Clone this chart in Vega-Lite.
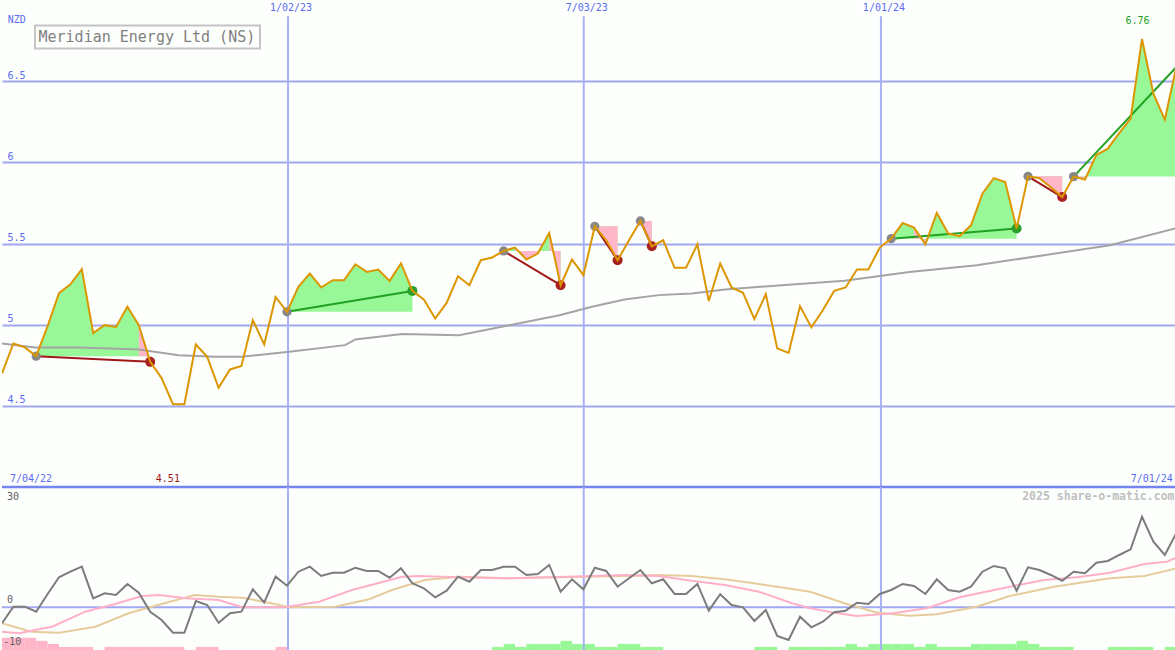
{
  "$schema": "https://vega.github.io/schema/vega-lite/v6.json",
  "padding": 0,
  "spacing": 0,
  "bounds": "flush",
  "background": "#fdfffd",
  "config": {
    "view": {"stroke": null},
    "axisX": {"domain": false, "ticks": false, "labels": false, "grid": false, "title": null},
    "axisY": {"domain": false, "ticks": false, "title": null},
    "text": {"font": "DejaVu Sans Mono"}
  },
  "datasets": {
    "series": [
      {"i":0,"p":4.70,"o":-4.0},{"i":1,"p":4.884,"o":0.15},{"i":2,"p":4.86,"o":0.15},{"i":3,"p":4.806,"o":-1.1},
      {"i":4,"p":4.991,"o":3.33},{"i":5,"p":5.194,"o":7.5},{"i":6,"p":5.249,"o":8.9},{"i":7,"p":5.342,"o":10.15},
      {"i":8,"p":4.948,"o":2.25},{"i":9,"p":4.997,"o":3.5},{"i":10,"p":4.986,"o":3.08},{"i":11,"p":5.11,"o":5.83},
      {"i":12,"p":4.997,"o":3.65},{"i":13,"p":4.771,"o":-1.1},{"i":14,"p":4.671,"o":-3.18},{"i":15,"p":4.51,"o":-6.35},
      {"i":16,"p":4.51,"o":-6.35},{"i":17,"p":4.878,"o":1.58},{"i":18,"p":4.802,"o":0.58},{"i":19,"p":4.611,"o":-3.85},
      {"i":20,"p":4.724,"o":-1.5},{"i":21,"p":4.745,"o":-1.1},{"i":22,"p":5.028,"o":4.5},{"i":23,"p":4.878,"o":1.25},
      {"i":24,"p":5.171,"o":7.65},{"i":25,"p":5.079,"o":5.4},{"i":26,"p":5.233,"o":8.9},{"i":27,"p":5.315,"o":10.15},
      {"i":28,"p":5.229,"o":7.83},{"i":29,"p":5.274,"o":8.65},{"i":30,"p":5.274,"o":8.65},{"i":31,"p":5.372,"o":9.9},
      {"i":32,"p":5.325,"o":9.08},{"i":33,"p":5.34,"o":9.08},{"i":34,"p":5.27,"o":7.4},{"i":35,"p":5.377,"o":9.75},
      {"i":36,"p":5.208,"o":6.0},{"i":37,"p":5.155,"o":4.75},{"i":38,"p":5.038,"o":2.5},{"i":39,"p":5.134,"o":4.15},
      {"i":40,"p":5.298,"o":7.65},{"i":41,"p":5.243,"o":6.4},{"i":42,"p":5.397,"o":9.33},{"i":43,"p":5.414,"o":9.33},
      {"i":44,"p":5.454,"o":10.15},{"i":45,"p":5.475,"o":10.15},{"i":46,"p":5.401,"o":8.08},{"i":47,"p":5.438,"o":8.33},
      {"i":48,"p":5.565,"o":10.58},{"i":49,"p":5.243,"o":3.9},{"i":50,"p":5.401,"o":7.0},{"i":51,"p":5.305,"o":4.5},
      {"i":52,"p":5.606,"o":9.9},{"i":53,"p":5.52,"o":9.08},{"i":54,"p":5.397,"o":5.15},{"i":55,"p":5.52,"o":7.25},
      {"i":56,"p":5.639,"o":9.33},{"i":57,"p":5.483,"o":6.0},{"i":58,"p":5.52,"o":7.0},{"i":59,"p":5.35,"o":3.33},
      {"i":60,"p":5.35,"o":3.33},{"i":61,"p":5.495,"o":5.83},{"i":62,"p":5.146,"o":-0.85},{"i":63,"p":5.377,"o":3.25},
      {"i":64,"p":5.229,"o":0.58},{"i":65,"p":5.196,"o":0.0},{"i":66,"p":5.034,"o":-3.43},{"i":67,"p":5.188,"o":-0.68},
      {"i":68,"p":4.854,"o":-7.18},{"i":69,"p":4.826,"o":-8.18},{"i":70,"p":5.114,"o":-2.35},{"i":71,"p":4.983,"o":-5.0},
      {"i":72,"p":5.089,"o":-3.6},{"i":73,"p":5.208,"o":-1.25},{"i":74,"p":5.229,"o":-0.85},{"i":75,"p":5.34,"o":1.15},
      {"i":76,"p":5.34,"o":0.83},{"i":77,"p":5.475,"o":3.33},{"i":78,"p":5.53,"o":4.33},{"i":79,"p":5.626,"o":5.83},
      {"i":80,"p":5.598,"o":5.33},{"i":81,"p":5.495,"o":3.33},{"i":82,"p":5.688,"o":7.0},{"i":83,"p":5.561,"o":4.33},
      {"i":84,"p":5.545,"o":3.9},{"i":85,"p":5.612,"o":5.15},{"i":86,"p":5.807,"o":8.9},{"i":87,"p":5.903,"o":10.33},
      {"i":88,"p":5.879,"o":9.75},{"i":89,"p":5.592,"o":4.15},{"i":90,"p":5.914,"o":10.0},{"i":91,"p":5.902,"o":9.33},
      {"i":92,"p":5.846,"o":8.08},{"i":93,"p":5.786,"o":6.65},{"i":94,"p":5.912,"o":8.9},{"i":95,"p":5.894,"o":8.5},
      {"i":96,"p":6.046,"o":11.15},{"i":97,"p":6.084,"o":11.58},{"i":98,"p":6.18,"o":13.08},{"i":99,"p":6.269,"o":14.5},
      {"i":100,"p":6.76,"o":22.65},{"i":101,"p":6.423,"o":16.4},{"i":102,"p":6.263,"o":13.08},{"i":103,"p":6.586,"o":18.5}
    ],
    "ma": [
      {"i":0,"v":4.884},{"i":2.9,"v":4.86},{"i":6.75,"v":4.86},{"i":12.0,"v":4.847},{"i":15.5,"v":4.812},
      {"i":18.7,"v":4.802},{"i":21.05,"v":4.802},{"i":25.2,"v":4.833},{"i":30.1,"v":4.874},{"i":31.0,"v":4.909},
      {"i":35.1,"v":4.942},{"i":40.1,"v":4.935},{"i":44.5,"v":4.997},{"i":48.9,"v":5.058},{"i":51.75,"v":5.11},
      {"i":54.6,"v":5.155},{"i":57.6,"v":5.182},{"i":60.5,"v":5.192},{"i":63.4,"v":5.217},{"i":69.3,"v":5.247},
      {"i":73.9,"v":5.27},{"i":79.6,"v":5.325},{"i":85.5,"v":5.366},{"i":91.4,"v":5.428},{"i":97.2,"v":5.489},
      {"i":103.07,"v":5.596}
    ],
    "fills": [
      {"t":1,"i":3,"p":4.806,"b":4.806},{"t":1,"i":4,"p":4.991,"b":4.806},{"t":1,"i":5,"p":5.194,"b":4.806},{"t":1,"i":6,"p":5.249,"b":4.806},
      {"t":1,"i":7,"p":5.342,"b":4.806},{"t":1,"i":8,"p":4.948,"b":4.806},{"t":1,"i":9,"p":4.997,"b":4.806},{"t":1,"i":10,"p":4.986,"b":4.806},
      {"t":1,"i":11,"p":5.11,"b":4.806},{"t":1,"i":12,"p":4.997,"b":4.806},{"t":1,"i":13,"p":4.771,"b":4.806},
      {"t":2,"i":25,"p":5.079,"b":5.079},{"t":2,"i":26,"p":5.233,"b":5.079},{"t":2,"i":27,"p":5.315,"b":5.079},{"t":2,"i":28,"p":5.229,"b":5.079},
      {"t":2,"i":29,"p":5.274,"b":5.079},{"t":2,"i":30,"p":5.274,"b":5.079},{"t":2,"i":31,"p":5.372,"b":5.079},{"t":2,"i":32,"p":5.325,"b":5.079},
      {"t":2,"i":33,"p":5.34,"b":5.079},{"t":2,"i":34,"p":5.27,"b":5.079},{"t":2,"i":35,"p":5.377,"b":5.079},{"t":2,"i":36,"p":5.208,"b":5.079},
      {"t":3,"i":44,"p":5.454,"b":5.454},{"t":3,"i":45,"p":5.475,"b":5.454},{"t":3,"i":46,"p":5.401,"b":5.454},{"t":3,"i":47,"p":5.438,"b":5.454},
      {"t":3,"i":48,"p":5.565,"b":5.454},{"t":3,"i":49,"p":5.243,"b":5.454},
      {"t":4,"i":52,"p":5.606,"b":5.606},{"t":4,"i":53,"p":5.52,"b":5.606},{"t":4,"i":54,"p":5.397,"b":5.606},
      {"t":5,"i":56,"p":5.639,"b":5.639},{"t":5,"i":57,"p":5.483,"b":5.639},
      {"t":6,"i":78,"p":5.53,"b":5.53},{"t":6,"i":79,"p":5.626,"b":5.53},{"t":6,"i":80,"p":5.598,"b":5.53},{"t":6,"i":81,"p":5.495,"b":5.53},
      {"t":6,"i":82,"p":5.688,"b":5.53},{"t":6,"i":83,"p":5.561,"b":5.53},{"t":6,"i":84,"p":5.545,"b":5.53},{"t":6,"i":85,"p":5.612,"b":5.53},
      {"t":6,"i":86,"p":5.807,"b":5.53},{"t":6,"i":87,"p":5.903,"b":5.53},{"t":6,"i":88,"p":5.879,"b":5.53},{"t":6,"i":89,"p":5.592,"b":5.53},
      {"t":7,"i":90,"p":5.914,"b":5.914},{"t":7,"i":91,"p":5.902,"b":5.914},{"t":7,"i":92,"p":5.846,"b":5.914},{"t":7,"i":93,"p":5.786,"b":5.914},
      {"t":8,"i":94,"p":5.912,"b":5.912},{"t":8,"i":95,"p":5.894,"b":5.912},{"t":8,"i":96,"p":6.046,"b":5.912},{"t":8,"i":97,"p":6.084,"b":5.912},
      {"t":8,"i":98,"p":6.18,"b":5.912},{"t":8,"i":99,"p":6.269,"b":5.912},{"t":8,"i":100,"p":6.76,"b":5.912},{"t":8,"i":101,"p":6.423,"b":5.912},
      {"t":8,"i":102,"p":6.263,"b":5.912},{"t":8,"i":103,"p":6.586,"b":5.912}
    ],
    "pinks": [
      {"s":1,"i":12,"p":4.997,"b":4.806},{"s":1,"i":13,"p":4.771,"b":4.806},
      {"s":2,"i":45,"p":5.475,"b":5.454},{"s":2,"i":46,"p":5.401,"b":5.454},{"s":2,"i":47,"p":5.438,"b":5.454},
      {"s":3,"i":48,"p":5.565,"b":5.454},{"s":3,"i":49,"p":5.243,"b":5.454},
      {"s":4,"i":52,"p":5.606,"b":5.606},{"s":4,"i":53,"p":5.52,"b":5.606},{"s":4,"i":54,"p":5.397,"b":5.606},
      {"s":5,"i":56,"p":5.639,"b":5.639},{"s":5,"i":57,"p":5.483,"b":5.639},
      {"s":6,"i":80,"p":5.598,"b":5.53},{"s":6,"i":81,"p":5.495,"b":5.53},
      {"s":7,"i":90,"p":5.914,"b":5.914},{"s":7,"i":91,"p":5.902,"b":5.914},{"s":7,"i":92,"p":5.846,"b":5.914},{"s":7,"i":93,"p":5.786,"b":5.914},
      {"s":8,"i":94,"p":5.912,"b":5.912},{"s":8,"i":95,"p":5.894,"b":5.912}
    ],
    "trades": [
      {"t":1,"i0":3,"p0":4.806,"i1":13,"p1":4.771,"r":"loss"},
      {"t":2,"i0":25,"p0":5.079,"i1":36,"p1":5.208,"r":"win"},
      {"t":3,"i0":44,"p0":5.454,"i1":49,"p1":5.243,"r":"loss"},
      {"t":4,"i0":52,"p0":5.606,"i1":54,"p1":5.397,"r":"loss"},
      {"t":5,"i0":56,"p0":5.639,"i1":57,"p1":5.483,"r":"loss"},
      {"t":6,"i0":78,"p0":5.53,"i1":89,"p1":5.592,"r":"win"},
      {"t":7,"i0":90,"p0":5.914,"i1":93,"p1":5.786,"r":"loss"},
      {"t":8,"i0":94,"p0":5.912,"i1":103,"p1":6.586,"r":"open"}
    ],
    "dates": [
      {"pos":25.09,"lab":"1/02/23"},{"pos":51.03,"lab":"7/03/23"},{"pos":77.1,"lab":"1/01/24"}
    ],
    "pinksig": [
      {"i":0,"v":-6.1},{"i":1.5,"v":-6.5},{"i":2.9,"v":-5.68},{"i":4.4,"v":-4.85},
      {"i":7.3,"v":-1.1},{"i":9.6,"v":0.58},{"i":12.3,"v":2.83},{"i":13.8,"v":3.08},
      {"i":16.1,"v":2.25},{"i":19.0,"v":1.83},{"i":21.1,"v":0},{"i":24.8,"v":0},
      {"i":27.8,"v":1.4},{"i":30.7,"v":4.33},{"i":35.1,"v":7.65},{"i":36.6,"v":7.83},
      {"i":40.1,"v":7.5},{"i":43.9,"v":7.25},{"i":48,"v":7.5},{"i":51.8,"v":7.83},
      {"i":54.6,"v":8.08},{"i":57.6,"v":7.83},{"i":60.5,"v":6.65},{"i":63.4,"v":5.58},
      {"i":66.4,"v":3.9},{"i":69.3,"v":1.0},{"i":70.9,"v":-0.25},{"i":73,"v":-1.35},
      {"i":75,"v":-2.18},{"i":78.2,"v":-1.5},{"i":81.1,"v":-0.25},{"i":84,"v":2.5},
      {"i":88.4,"v":5.15},{"i":91.4,"v":6.83},{"i":94.3,"v":7.5},{"i":97.2,"v":8.65},
      {"i":100.2,"v":10.83},{"i":102.2,"v":11.4},{"i":103.07,"v":12.5}
    ],
    "tansig": [
      {"i":0,"v":-4.0},{"i":2.6,"v":-6.1},{"i":5,"v":-6.35},{"i":8.2,"v":-4.85},
      {"i":11.1,"v":-1.5},{"i":14,"v":0.83},{"i":16.9,"v":3.08},{"i":19,"v":2.65},
      {"i":21.1,"v":2.4},{"i":23.4,"v":1.15},{"i":25.2,"v":0},{"i":29.2,"v":0.15},
      {"i":32.2,"v":2.0},{"i":34.2,"v":4.33},{"i":37.1,"v":6.83},{"i":40.1,"v":7.65},
      {"i":44.5,"v":7.25},{"i":48.9,"v":7.5},{"i":54.6,"v":7.83},{"i":57.6,"v":8.08},
      {"i":60.5,"v":7.83},{"i":63.4,"v":7.0},{"i":66.4,"v":5.83},{"i":69.3,"v":4.58},
      {"i":70.9,"v":3.9},{"i":73.9,"v":1.0},{"i":76.8,"v":-1.35},{"i":79.6,"v":-2.1},
      {"i":82,"v":-1.75},{"i":85.5,"v":0.15},{"i":88.4,"v":2.83},{"i":92.3,"v":5.15},
      {"i":97.2,"v":7.25},{"i":100.2,"v":7.83},{"i":103.07,"v":9.75}
    ],
    "hist": [
      {"i":0,"h":4,"c":"neg"},{"i":1,"h":4,"c":"neg"},{"i":2,"h":4,"c":"neg"},{"i":3,"h":3,"c":"neg"},{"i":4,"h":2,"c":"neg"},
      {"i":5,"h":1,"c":"neg"},{"i":6,"h":1,"c":"neg"},{"i":7,"h":1,"c":"neg"},{"i":9,"h":1,"c":"neg"},{"i":10,"h":1,"c":"neg"},
      {"i":11,"h":1,"c":"neg"},{"i":12,"h":1,"c":"neg"},{"i":13,"h":1,"c":"neg"},{"i":14,"h":1,"c":"neg"},{"i":15,"h":1,"c":"neg"},
      {"i":17,"h":1,"c":"neg"},{"i":18,"h":1,"c":"neg"},{"i":24,"h":1,"c":"neg"},
      {"i":43,"h":1,"c":"pos"},{"i":44,"h":2,"c":"pos"},{"i":45,"h":1,"c":"pos"},{"i":46,"h":2,"c":"pos"},{"i":47,"h":2,"c":"pos"},
      {"i":48,"h":2,"c":"pos"},{"i":49,"h":3,"c":"pos"},{"i":50,"h":2,"c":"pos"},{"i":51,"h":2,"c":"pos"},{"i":52,"h":1,"c":"pos"},
      {"i":53,"h":1,"c":"pos"},{"i":54,"h":2,"c":"pos"},{"i":55,"h":2,"c":"pos"},{"i":56,"h":1,"c":"pos"},{"i":57,"h":1,"c":"pos"},
      {"i":66,"h":1,"c":"pos"},{"i":67,"h":1,"c":"pos"},{"i":69,"h":1,"c":"pos"},{"i":70,"h":1,"c":"pos"},{"i":71,"h":1,"c":"pos"},
      {"i":72,"h":1,"c":"pos"},{"i":73,"h":1,"c":"pos"},{"i":74,"h":2,"c":"pos"},{"i":75,"h":1,"c":"pos"},{"i":76,"h":2,"c":"pos"},
      {"i":77,"h":2,"c":"pos"},{"i":78,"h":2,"c":"pos"},{"i":79,"h":2,"c":"pos"},{"i":80,"h":1,"c":"pos"},{"i":81,"h":2,"c":"pos"},
      {"i":82,"h":1,"c":"pos"},{"i":83,"h":1,"c":"pos"},{"i":84,"h":1,"c":"pos"},{"i":85,"h":2,"c":"pos"},{"i":86,"h":2,"c":"pos"},
      {"i":87,"h":2,"c":"pos"},{"i":88,"h":2,"c":"pos"},{"i":89,"h":3,"c":"pos"},{"i":90,"h":2,"c":"pos"},{"i":91,"h":1,"c":"pos"},
      {"i":92,"h":1,"c":"pos"},{"i":93,"h":1,"c":"pos"},{"i":97,"h":1,"c":"pos"},{"i":98,"h":1,"c":"pos"},{"i":99,"h":1,"c":"pos"},
      {"i":100,"h":1,"c":"pos"},{"i":102,"h":1,"c":"pos"}
    ]
  },
  "vconcat": [
    {
      "width": 1175,
      "height": 487,
      "layer": [
        {
          "data": {"name": "fills"},
          "mark": {"type": "area", "color": "#98f898", "opacity": 1, "clip": true},
          "encoding": {
            "x": {"field": "i", "type": "quantitative", "scale": {"domain": [0, 103.07], "nice": false, "zero": false, "padding": 0}, "axis": null},
            "y": {"field": "p", "type": "quantitative", "scale": {"domain": [4, 7], "nice": false, "zero": false},
              "axis": {"values": [4.5, 5, 5.5, 6, 6.5], "grid": true, "gridColor": "#a0a8f0", "gridWidth": 2, "domain": false, "ticks": false, "tickSize": 0,
                "labelAlign": "left", "labelBaseline": "bottom", "labelPadding": -5, "labelOffset": -1, "labelColor": "#5a6cf0",
                "labelFont": "DejaVu Sans Mono", "labelFontSize": 10, "labelExpr": "toString(datum.value)", "labelOverlap": false, "labelFlush": false, "title": null}},
            "y2": {"field": "b"},
            "detail": {"field": "t", "type": "nominal"}
          }
        },
        {
          "data": {"name": "pinks"},
          "mark": {"type": "area", "color": "#ffb6c8", "opacity": 1, "clip": true},
          "encoding": {
            "x": {"field": "i", "type": "quantitative"},
            "y": {"field": "p", "type": "quantitative"},
            "y2": {"field": "b"},
            "detail": {"field": "s", "type": "nominal"}
          }
        },
        {
          "data": {"name": "dates"},
          "mark": {"type": "rule", "color": "#a8b0f4", "strokeWidth": 2},
          "encoding": {
            "x": {"field": "pos", "type": "quantitative"},
            "y": {"datum": 6.9, "type": "quantitative"},
            "y2": {"datum": 4.0}
          }
        },
        {
          "data": {"name": "ma"},
          "mark": {"type": "line", "color": "#a4a4a4", "strokeWidth": 2, "clip": true},
          "encoding": {
            "x": {"field": "i", "type": "quantitative"},
            "y": {"field": "v", "type": "quantitative"}
          }
        },
        {
          "data": {"name": "trades"},
          "transform": [{"filter": "datum.r == 'loss'"}],
          "mark": {"type": "rule", "strokeWidth": 2, "color": "#a01818"},
          "encoding": {
            "x": {"field": "i0", "type": "quantitative"},
            "y": {"field": "p0", "type": "quantitative"},
            "x2": {"field": "i1"},
            "y2": {"field": "p1"}
          }
        },
        {
          "data": {"name": "trades"},
          "transform": [{"filter": "datum.r != 'loss'"}],
          "mark": {"type": "rule", "strokeWidth": 2, "color": "#22a022"},
          "encoding": {
            "x": {"field": "i0", "type": "quantitative"},
            "y": {"field": "p0", "type": "quantitative"},
            "x2": {"field": "i1"},
            "y2": {"field": "p1"}
          }
        },
        {
          "data": {"name": "trades"},
          "mark": {"type": "circle", "color": "#888888", "size": 85, "opacity": 1},
          "encoding": {
            "x": {"field": "i0", "type": "quantitative"},
            "y": {"field": "p0", "type": "quantitative"}
          }
        },
        {
          "data": {"name": "trades"},
          "transform": [{"filter": "datum.r == 'loss'"}],
          "mark": {"type": "circle", "size": 100, "opacity": 1, "color": "#a82222"},
          "encoding": {
            "x": {"field": "i1", "type": "quantitative"},
            "y": {"field": "p1", "type": "quantitative"}
          }
        },
        {
          "data": {"name": "trades"},
          "transform": [{"filter": "datum.r == 'win'"}],
          "mark": {"type": "circle", "size": 100, "opacity": 1, "color": "#2aa02a"},
          "encoding": {
            "x": {"field": "i1", "type": "quantitative"},
            "y": {"field": "p1", "type": "quantitative"}
          }
        },
        {
          "data": {"name": "series"},
          "mark": {"type": "line", "color": "#dc9600", "strokeWidth": 2, "clip": true},
          "encoding": {
            "x": {"field": "i", "type": "quantitative"},
            "y": {"field": "p", "type": "quantitative"}
          }
        },
        {
          "data": {"values": [{"k": "sep"}]},
          "mark": {"type": "rule", "color": "#7484f0", "strokeWidth": 2.5},
          "encoding": {"y": {"datum": 4.0, "type": "quantitative"}}
        },
        {
          "data": {"name": "dates"},
          "mark": {"type": "text", "color": "#5a6cf0", "fontSize": 10, "align": "center", "baseline": "bottom", "dx": 3},
          "encoding": {
            "x": {"field": "pos", "type": "quantitative"},
            "y": {"datum": 6.917, "type": "quantitative"},
            "text": {"field": "lab"}
          }
        },
        {
          "data": {"values": [{"k": "nzd"}]},
          "mark": {"type": "text", "color": "#5a6cf0", "fontSize": 10, "align": "left", "baseline": "bottom", "text": "NZD"},
          "encoding": {"x": {"datum": 0.5, "type": "quantitative"}, "y": {"datum": 6.843, "type": "quantitative"}}
        },
        {
          "data": {"values": [{"k": "box"}]},
          "mark": {"type": "rect", "filled": false, "stroke": "#c4c4c4", "strokeWidth": 2},
          "encoding": {
            "x": {"datum": 2.9, "type": "quantitative"}, "x2": {"datum": 22.63},
            "y": {"datum": 6.843, "type": "quantitative"}, "y2": {"datum": 6.702}
          }
        },
        {
          "data": {"values": [{"k": "title"}]},
          "mark": {"type": "text", "color": "#808080", "fontSize": 15, "align": "left", "baseline": "middle", "text": "Meridian Energy Ltd (NS)"},
          "encoding": {"x": {"datum": 3.2, "type": "quantitative"}, "y": {"datum": 6.772, "type": "quantitative"}}
        },
        {
          "data": {"values": [{"k": "start"}]},
          "mark": {"type": "text", "color": "#5a6cf0", "fontSize": 10, "align": "left", "baseline": "bottom", "text": "7/04/22"},
          "encoding": {"x": {"datum": 0.7, "type": "quantitative"}, "y": {"datum": 4.018, "type": "quantitative"}}
        },
        {
          "data": {"values": [{"k": "end"}]},
          "mark": {"type": "text", "color": "#5a6cf0", "fontSize": 10, "align": "right", "baseline": "bottom", "text": "7/01/24"},
          "encoding": {"x": {"datum": 102.7, "type": "quantitative"}, "y": {"datum": 4.018, "type": "quantitative"}}
        },
        {
          "data": {"values": [{"k": "min"}]},
          "mark": {"type": "text", "color": "#a01818", "fontSize": 10, "align": "center", "baseline": "bottom", "text": "4.51"},
          "encoding": {"x": {"datum": 14.55, "type": "quantitative"}, "y": {"datum": 4.018, "type": "quantitative"}}
        },
        {
          "data": {"values": [{"k": "max"}]},
          "mark": {"type": "text", "color": "#20a020", "fontSize": 10, "align": "center", "baseline": "bottom", "text": "6.76"},
          "encoding": {"x": {"datum": 99.6, "type": "quantitative"}, "y": {"datum": 6.837, "type": "quantitative"}}
        }
      ]
    },
    {
      "width": 1175,
      "height": 163,
      "resolve": {"scale": {"y": "independent"}},
      "layer": [
        {
          "data": {"name": "hist"},
          "mark": {"type": "bar", "width": 11.4, "xOffset": 5.7, "clip": true},
          "encoding": {
            "x": {"field": "i", "type": "quantitative", "scale": {"domain": [0, 103.07], "nice": false, "zero": false, "padding": 0}, "axis": null},
            "y": {"field": "h", "type": "quantitative", "scale": {"domain": [0, 53.4], "nice": false}, "axis": null},
            "color": {"condition": {"test": "datum.c == 'neg'", "value": "#ffb6c8"}, "value": "#98f898"}
          }
        },
        {
          "layer": [
            {
              "data": {"values": [{"k": "zero"}]},
              "mark": {"type": "rule", "color": "#a0a8f0", "strokeWidth": 2},
              "encoding": {
                "y": {"datum": 0, "type": "quantitative", "scale": {"domain": [-10.68, 30.08], "nice": false, "zero": false}, "axis": null}
              }
            },
            {
              "data": {"name": "dates"},
              "mark": {"type": "rule", "color": "#a8b0f4", "strokeWidth": 2},
              "encoding": {"x": {"field": "pos", "type": "quantitative"}}
            },
            {
              "data": {"name": "tansig"},
              "mark": {"type": "line", "strokeWidth": 2, "clip": true, "color": "#e6cc9c"},
              "encoding": {
                "x": {"field": "i", "type": "quantitative"},
                "y": {"field": "v", "type": "quantitative"}
              }
            },
            {
              "data": {"name": "pinksig"},
              "mark": {"type": "line", "strokeWidth": 2, "clip": true, "color": "#ffb0c8"},
              "encoding": {
                "x": {"field": "i", "type": "quantitative"},
                "y": {"field": "v", "type": "quantitative"}
              }
            },
            {
              "data": {"name": "series"},
              "mark": {"type": "line", "color": "#7c7c7c", "strokeWidth": 2, "clip": true},
              "encoding": {
                "x": {"field": "i", "type": "quantitative"},
                "y": {"field": "o", "type": "quantitative"}
              }
            },
            {
              "data": {"values": [{"k": "l30"}]},
              "mark": {"type": "text", "color": "#606060", "fontSize": 10, "align": "left", "baseline": "top", "text": "30"},
              "encoding": {"x": {"datum": 0.44, "type": "quantitative"}, "y": {"datum": 28.8, "type": "quantitative"}}
            },
            {
              "data": {"values": [{"k": "l0"}]},
              "mark": {"type": "text", "color": "#606060", "fontSize": 10, "align": "left", "baseline": "bottom", "text": "0"},
              "encoding": {"x": {"datum": 0.44, "type": "quantitative"}, "y": {"datum": 0.6, "type": "quantitative"}}
            },
            {
              "data": {"values": [{"k": "lm10"}]},
              "mark": {"type": "text", "color": "#606060", "fontSize": 10, "align": "left", "baseline": "bottom", "text": "-10"},
              "encoding": {"x": {"datum": 0.1, "type": "quantitative"}, "y": {"datum": -9.92, "type": "quantitative"}}
            },
            {
              "data": {"values": [{"k": "wm"}]},
              "mark": {"type": "text", "color": "#c0c0c0", "fontSize": 11.5, "fontWeight": "bold", "align": "right", "baseline": "bottom", "text": "2025 share-o-matic.com"},
              "encoding": {"x": {"datum": 102.85, "type": "quantitative"}, "y": {"datum": 26.3, "type": "quantitative"}}
            }
          ]
        }
      ]
    }
  ]
}
